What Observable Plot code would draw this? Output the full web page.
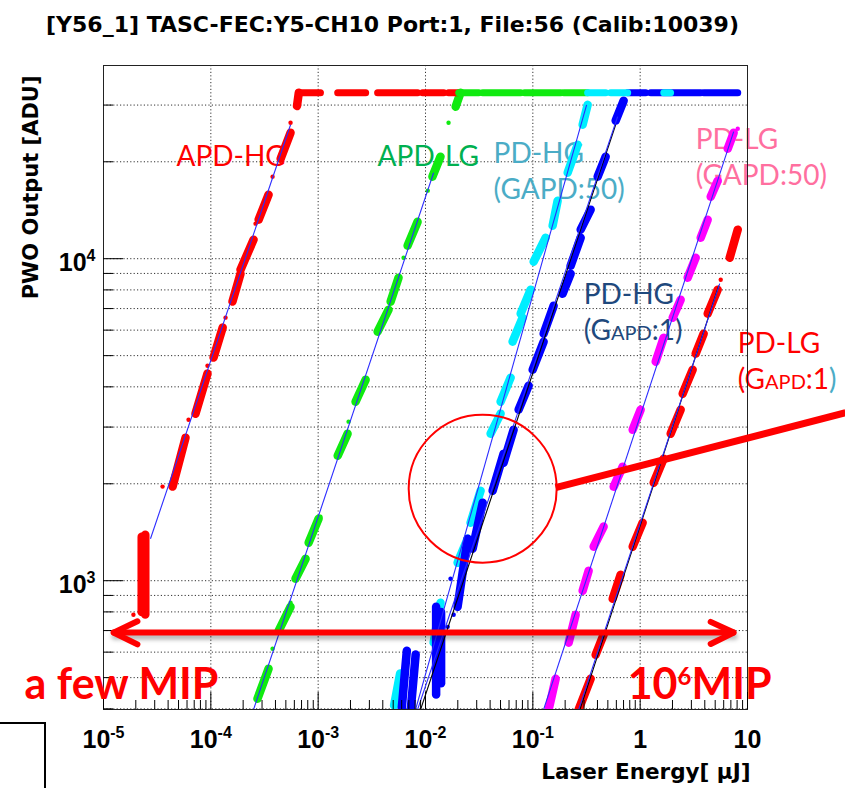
<!DOCTYPE html>
<html>
<head>
<meta charset="utf-8">
<script src="https://cdn.jsdelivr.net/npm/d3@7"></script>
<script src="https://cdn.jsdelivr.net/npm/@observablehq/plot@0.6"></script>
<style>
  html, body { margin: 0; padding: 0; background: #fff; }
  body { width: 845px; height: 788px; position: relative; overflow: hidden; }
  #chart { position: absolute; left: 0; top: 0; }
  #title { position: absolute; top: 14px; left: 0; width: 785px; text-align: center;
           font: bold 22px "DejaVu Sans", sans-serif; line-height: 22px; color: #000; white-space: nowrap; }
  #slidebox { position: absolute; left: -2px; top: 722px; width: 46px; height: 80px;
              border-top: 2px solid #000; border-right: 2px solid #000; }
</style>
</head>
<body>
<div id="chart"></div>
<div id="title">[Y56_1] TASC-FEC:Y5-CH10 Port:1, File:56 (Calib:10039)</div>
<div id="slidebox"></div>
<script>
// ---------- axes / ticks ----------
const xDomain = [1e-5, 10];
const yDomain = [398.1, 39811];
const xMajorTicks = [1e-5, 1e-4, 1e-3, 1e-2, 1e-1, 1, 10];
const xGridTicks = [1e-4, 1e-3, 1e-2, 1e-1, 1];
const yMajorTicks = [1e3, 1e4];
const yMinorTicks = [400, 500, 600, 700, 800, 900, 2000, 3000, 4000, 5000, 6000, 7000, 8000, 9000, 20000, 30000];
const xMinorTicks = [];
for (const d of [1e-5, 1e-4, 1e-3, 1e-2, 1e-1, 1]) for (let k = 2; k <= 9; k++) xMinorTicks.push(+(k * d).toPrecision(3));
const SAT = 32768; // ADC saturation level

// ---------- APD-HG (red) : blobs [x1, y1, x2, y2] ----------
const apdHgBlobs = [
  [2.27e-5, 800, 2.27e-5, 1370], [2.45e-5, 785, 2.45e-5, 1390],
  [4.40e-5, 1960, 5.81e-5, 2780], [7.19e-5, 3300, 9.31e-5, 4400],
  [1.06e-4, 4930, 1.29e-4, 6110], [1.59e-4, 7360, 1.89e-4, 8980],
  [1.89e-4, 9240, 2.50e-4, 11460], [2.79e-4, 13220, 3.45e-4, 15810],
  [4.47e-4, 20450, 5.53e-4, 24630], [6.35e-4, 29800, 6.60e-4, 32768]
];
const apdHgStray = [[1.90e-5, 784], [3.55e-5, 1960], [6.20e-5, 3160], [9.31e-5, 4650], [1.37e-4, 6560], [2.61e-4, 12850], [3.76e-4, 17980], [5.53e-4, 26450]];
const apdHgSat = [[6.6e-4, 1.05e-3], [1.52e-3, 2.77e-3], [3.58e-3, 8.44e-3], [9.40e-3, 1.48e-2], [1.64e-2, 1.99e-2]];
const apdHgFit = [2.74e-5, 1350, 5.53e-4, 26060];

// ---------- APD-LG (green) ----------
const apdLgBlobs = [
  [2.72e-4, 430, 3.45e-4, 533], [4.28e-4, 699, 5.53e-4, 830],
  [6.15e-4, 1014, 7.64e-4, 1170], [8.15e-4, 1312, 1.01e-3, 1558],
  [1.52e-3, 2445, 1.88e-3, 2861], [2.23e-3, 3596, 2.77e-3, 4210],
  [3.58e-3, 5934, 4.53e-3, 6944], [4.73e-3, 7356, 5.61e-3, 8730],
  [6.81e-3, 10975, 8.44e-3, 13025], [1.16e-2, 17975, 1.38e-2, 20740],
  [1.91e-2, 29650, 2.12e-2, 32768]
];
const apdLgStray = [[3.76e-4, 615], [5.53e-4, 854], [1.05e-3, 1580], [1.92e-3, 3118], [6.25e-3, 10070], [1.05e-2, 16270], [1.64e-2, 26450]];
const apdLgSat = [[2.04e-2, 3.13e-2], [3.41e-2, 7.70e-2], [8.39e-2, 0.182], [0.194, 0.324]];
const apdLgFit = [2.50e-4, 398, 1.19e-2, 18490];

// ---------- PD-HG, G_APD:50 (cyan) ----------
const pdHg50Blobs = [
  [5.1e-3, 410, 5.8e-3, 515], [1.19e-2, 642, 1.38e-2, 854],
  [1.99e-2, 1137, 2.47e-2, 1350], [2.63e-2, 1514, 3.26e-2, 1903],
  [4.04e-2, 2861, 5.01e-2, 3302], [5.01e-2, 3596, 6.21e-2, 4270],
  [6.48e-2, 5524, 8.03e-2, 6559], [7.70e-2, 6749, 9.54e-2, 8011],
  [0.1018, 9788, 0.1316, 11620], [0.1529, 12660, 0.1703, 15140],
  [0.2111, 18500, 0.2615, 22590], [0.2911, 26070, 0.3241, 30060]
];
const pdHg50Sat = [[0.324, 0.477], [0.531, 0.765], [1.66, 1.92]];
const pdHg50Fit = [8.08e-3, 398, 0.317, 30060];

// ---------- PD-HG, G_APD:1 (blue) ----------
const pdHg1Blobs = [
  [6.0e-3, 400, 6.7e-3, 606], [7.3e-3, 400, 8.1e-3, 590],
  [1.256e-2, 443, 1.256e-2, 830], [1.397e-2, 480, 1.397e-2, 800],
  [1.99e-2, 830, 2.47e-2, 1350], [2.75e-2, 1257, 3.41e-2, 1747],
  [4.22e-2, 1903, 5.34e-2, 2480], [5.34e-2, 2325, 6.62e-2, 2944],
  [7.37e-2, 3398, 9.14e-2, 4033], [9.96e-2, 4521, 0.1261, 5524],
  [0.1261, 5850, 0.1563, 7145], [0.1895, 7785, 0.2251, 8982],
  [0.2251, 9512, 0.2790, 11620], [0.2790, 12310, 0.3457, 14200],
  [0.4017, 17975, 0.4772, 20740], [0.591, 26830, 0.702, 30950]
];
const pdHg1Stray = [[1.71e-2, 1014], [1.83e-2, 784], [1.61e-2, 719]];
const pdHg1Sat = [[0.765, 1.126], [1.253, 3.663], [3.906, 8.11]];
const pdHg1Fit = [8.44e-3, 398, 0.617, 27610];
const pdHg1FitB = [9.0e-3, 398, 0.591, 26070];

// ---------- PD-LG, G_APD:50 (magenta) ----------
const pdLg50Blobs = [
  [0.1404, 398, 0.1631, 496], [0.2157, 642, 0.2505, 784],
  [0.2911, 931, 0.3311, 1074], [0.3686, 1275, 0.4568, 1472],
  [0.5662, 1959, 0.6867, 2259], [0.8514, 2944, 1.011, 3398],
  [1.395, 4788, 1.656, 5684], [2.009, 6559, 2.385, 7459],
  [2.772, 8730, 3.290, 10070], [3.663, 11620, 4.257, 13215],
  [4.540, 15580, 5.276, 17470], [6.540, 21960, 7.435, 24625]
];
const pdLg50Stray = [[8.11, 25330]];
const pdLg50Fit = [0.126, 398, 7.435, 24800];

// ---------- PD-LG, G_APD:1 (red) ----------
const pdLg1Blobs = [
  [0.2672, 398, 0.3457, 496], [0.3848, 589, 0.4568, 680],
  [0.5544, 879, 0.6581, 1044], [0.8514, 1275, 1.055, 1514],
  [1.336, 2015, 1.656, 2393], [1.924, 2861, 2.385, 3398],
  [2.489, 3808, 3.085, 4521], [3.290, 5070, 3.906, 5850],
  [4.257, 6749, 5.276, 8011], [6.826, 10070, 8.11, 12310]
];
const pdLg1Stray = [[5.63, 8605]];
const pdLg1Fit = [0.2672, 398, 5.507, 8363];
const pdLg1FitB = [0.275, 398, 5.40, 8250];

// ---------- annotations ----------
const labelText = ["APD-HG", "APD-LG", "PD-HG\n(GAPD:50)", "PD-LG\n(GAPD:50)", "PD-HG\n(Gapd:1)", "PD-LG\n(Gapd:1)"];
const labelX = [4.79e-5, 3.58e-3, 4.31e-2, 3.29, 0.2975, 8.11];
const labelY = [23250, 23250, 23760, 26270, 8670, 6110];
const bigNotes = ["a few MIP", "10^6MIP"];
const bigNoteX = [1.84e-6, 0.765];
const bigNoteY = [533, 533];
const circleCenter = [0.0341, 1931];
const pointerLine = [0.163, 1945, 82, 3324];
const arrowShaft = [[1.24e-5, 690], [7.44, 690]];
const arrowHeadL = [[2.07e-5, 748], [1.24e-5, 690], [2.07e-5, 634]];
const arrowHeadR = [[4.54, 745], [7.44, 690], [4.54, 636]];

// ---------- styles ----------
const C = {hg: "#ff0000", lg: "#10ea10", cy: "#00eeff", bl: "#0000ff", mg: "#ff00ff", rd: "#ff0000", fit: "#2b2bff"};
const labelColors = ["#ff0000", "#00b050", "#4bacc6", "#ff6f9f", "#1f497d", "#ff0000"];
const labelSmallCaps = [false, false, false, false, true, true];

const seg = (data, color, w = 8.5) => Plot.link(data, {x1: d => d[0], y1: d => d[1], x2: d => d[2], y2: d => d[3], stroke: color, strokeWidth: w, strokeLinecap: "round", clip: true});
const sat = (data, color) => Plot.link(data, {x1: d => d[0], x2: d => d[1], y1: () => SAT, y2: () => SAT, stroke: color, strokeWidth: 7, strokeLinecap: "round", clip: true});
const fit = (d, color) => Plot.link([d], {x1: d => d[0], y1: d => d[1], x2: d => d[2], y2: d => d[3], stroke: color, strokeWidth: 1.1, clip: true});
const stray = (data, color) => Plot.dot(data, {x: d => d[0], y: d => d[1], r: 2.2, fill: color, clip: true});
const powLabel = d => { const e = Math.round(Math.log10(d)); return e === 0 ? "1" : e === 1 ? "10" : "10^" + e; };

const TICKFONT = "Liberation Sans, Arial, sans-serif";
const ROOTFONT = "DejaVu Sans, sans-serif";
const NOTEFONT = "Lato, Open Sans, sans-serif";

const chart = Plot.plot({
  width: 845, height: 788,
  marginTop: 65, marginBottom: 79, marginLeft: 103, marginRight: 98,
  x: {type: "log", domain: xDomain},
  y: {type: "log", domain: yDomain},
  style: {background: "transparent", fontFamily: TICKFONT, overflow: "visible"},
  marks: [
    Plot.ruleY(yMinorTicks.concat(yMajorTicks), {stroke: "#333", strokeDasharray: "1.2,2.2"}),
    Plot.ruleX(xGridTicks, {stroke: "#333", strokeDasharray: "1.2,2.2"}),
    // series labels (beneath data)
    ...labelText.map((t, i) => Plot.text([t], {
      x: () => labelX[i], y: () => labelY[i], text: d => d,
      textAnchor: "start", lineAnchor: "top", lineHeight: 1.29,
      fontSize: 28, fontFamily: NOTEFONT, fill: labelColors[i],
      fontVariant: labelSmallCaps[i] ? "small-caps" : "normal"
    })),
    // data blobs
    seg(apdHgBlobs, C.hg), stray(apdHgStray, C.hg),
    seg(apdLgBlobs, C.lg), stray(apdLgStray, C.lg),
    seg(pdHg50Blobs, C.cy),
    seg(pdHg1Blobs, C.bl), stray(pdHg1Stray, C.bl),
    seg(pdLg50Blobs, C.mg), stray(pdLg50Stray, C.mg),
    seg(pdLg1Blobs, C.rd), stray(pdLg1Stray, C.rd),
    // saturation row
    sat(apdHgSat, C.hg), sat(apdLgSat, C.lg), sat(pdHg1Sat, C.bl), sat(pdHg50Sat, C.cy),
    // fits
    fit(apdHgFit, C.fit), fit(apdLgFit, C.fit), fit(pdHg50Fit, C.fit),
    fit(pdHg1FitB, "#000"), fit(pdHg1Fit, C.fit),
    fit(pdLg50Fit, C.fit), fit(pdLg1FitB, "#000"), fit(pdLg1Fit, C.fit),
    Plot.frame({stroke: "#222"}),
    // axes (ROOT style ticks inside)
    Plot.axisX(xMajorTicks, {anchor: "bottom", tickSize: -17, fill: "none", label: null}),
    Plot.axisX(xMinorTicks, {anchor: "bottom", tickSize: -9, fill: "none", label: null}),
    Plot.axisX(xMajorTicks, {anchor: "bottom", tickSize: 0, tickPadding: 21, tickFormat: powLabel, fontSize: 25, fontWeight: "bold", label: null}),
    Plot.axisY(yMajorTicks, {anchor: "left", tickSize: -20, fill: "none", label: null}),
    Plot.axisY(yMinorTicks, {anchor: "left", tickSize: -10, fill: "none", label: null}),
    Plot.axisY(yMajorTicks, {anchor: "left", tickSize: 0, tickPadding: 8, tickFormat: powLabel, fontSize: 25, fontWeight: "bold", label: null, dy: 4}),
    Plot.text(["Laser Energy[ \u03bcJ]"], {text: d => d, frameAnchor: "bottom-right", textAnchor: "end", lineAnchor: "top", dx: 3, dy: 54, fontSize: 21.5, fontWeight: "bold", fontFamily: ROOTFONT}),
    Plot.text(["PWO Output [ADU]"], {text: d => d, frameAnchor: "top-left", rotate: -90, textAnchor: "end", lineAnchor: "middle", dx: -72, dy: 10, fontSize: 21, fontWeight: "bold", fontFamily: ROOTFONT}),
    // slide annotations
    Plot.dot([circleCenter], {x: d => d[0], y: d => d[1], r: 74, stroke: "#ff0000", strokeWidth: 2, fill: "none"}),
    Plot.link([pointerLine], {x1: d => d[0], y1: d => d[1], x2: d => d[2], y2: d => d[3], stroke: "#ff0000", strokeWidth: 7}),
    Plot.line(arrowShaft, {x: d => d[0], y: d => d[1], stroke: "#ff0000", strokeWidth: 6, imageFilter: "drop-shadow(1px 4px 2px rgba(0,0,0,0.3))"}),
    Plot.line(arrowHeadL, {x: d => d[0], y: d => d[1], stroke: "#ff0000", strokeWidth: 6, strokeLinejoin: "miter"}),
    Plot.line(arrowHeadR, {x: d => d[0], y: d => d[1], stroke: "#ff0000", strokeWidth: 6, strokeLinejoin: "miter"}),
    Plot.text(bigNotes, {x: (d, i) => bigNoteX[i], y: (d, i) => bigNoteY[i], text: d => d, textAnchor: "start", lineAnchor: "top", fontSize: 43, fontWeight: "bold", fontFamily: NOTEFONT, fill: "#ff0000"})
  ]
});

// superscripts (10^n) as real tspans
function supify(el, supSize, rise) {
  const m = el.textContent.match(/^(.*?)\^(-?\d+)(.*)$/);
  if (!m) return;
  const ns = "http://www.w3.org/2000/svg";
  while (el.firstChild) el.removeChild(el.firstChild);
  const a = document.createElementNS(ns, "tspan"); a.textContent = m[1]; el.appendChild(a);
  const b = document.createElementNS(ns, "tspan"); b.setAttribute("dy", -rise); b.setAttribute("font-size", supSize); b.textContent = m[2]; el.appendChild(b);
  if (m[3]) { const c = document.createElementNS(ns, "tspan"); c.setAttribute("dy", rise); c.textContent = m[3]; el.appendChild(c); }
}
chart.querySelectorAll("text").forEach(t => {
  const s = t.textContent;
  if (s === "10^6MIP") supify(t, 24, 14);
  else if (s.includes("^")) supify(t, 16, 10);
  if (s === "PD-LG(Gapd:1)") {
    const sp = t.querySelectorAll("tspan");
    const last = sp[sp.length - 1];
    last.textContent = "(Gapd:1";
    const ns = "http://www.w3.org/2000/svg";
    const c = document.createElementNS(ns, "tspan"); c.setAttribute("fill", "#4bacc6"); c.textContent = ")";
    last.appendChild(c);
  }
});
document.getElementById("chart").append(chart);
</script>
</body>
</html>
